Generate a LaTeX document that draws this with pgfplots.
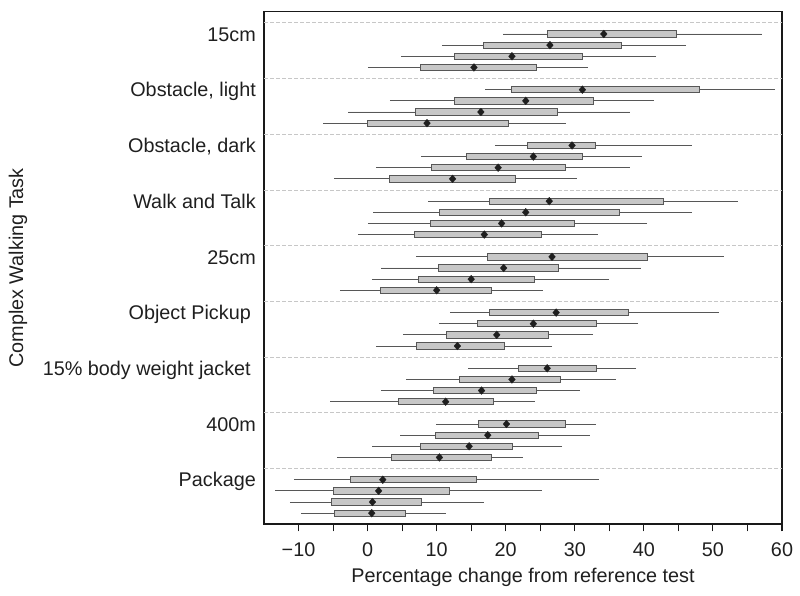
\documentclass[border=0pt]{standalone}
\usepackage{pgfplots}
\pgfplotsset{compat=1.18}
\usepackage{pgfplotstable}
\usepgfplotslibrary{statistics}
\usepackage{fontspec}
\setmainfont{Liberation Sans}

\pgfplotstableread{
y lw lq med uq uw
44 19.6 26.0 34.2 44.7 57.1
43 10.7 16.8 26.4 36.8 46.1
42 4.8 12.6 20.9 31.1 41.8
41 0.0 7.7 15.4 24.5 31.9
39 17.0 20.8 31.1 48.1 59.0
38 3.2 12.6 22.9 32.7 41.5
37 -2.8 6.9 16.4 27.5 38.0
36 -6.4 0.0 8.6 20.4 28.7
34 18.4 23.2 29.6 33.0 46.9
33 7.7 14.3 24.0 31.1 39.7
32 1.2 9.2 18.9 28.6 38.0
31 -4.8 3.2 12.3 21.4 30.3
29 8.8 17.6 26.3 42.8 53.6
28 0.8 10.4 22.9 36.4 47.0
27 0.0 9.1 19.4 29.9 40.5
26 -1.4 6.8 16.9 25.2 33.3
24 7.0 17.3 26.7 40.5 51.6
23 1.9 10.3 19.7 27.7 39.6
22 0.6 7.3 15.0 24.2 35.0
21 -4.0 1.8 10.0 18.0 25.4
19 11.9 17.7 27.3 37.7 50.9
18 10.3 15.9 24.0 33.1 39.2
17 5.1 11.4 18.7 26.2 32.7
16 1.2 7.1 13.0 19.8 26.7
14 14.6 21.8 26.0 33.1 38.9
13 5.6 13.3 20.9 27.9 36.0
12 1.9 9.6 16.5 24.5 30.7
11 -5.4 4.5 11.3 18.2 24.2
9 9.9 16.1 20.1 28.6 33.1
8 4.7 9.8 17.4 24.7 32.2
7 0.7 7.6 14.7 21.0 28.2
6 -4.5 3.4 10.4 18.0 22.5
4 -10.7 -2.5 2.2 15.8 33.5
3 -13.4 -5.0 1.6 11.8 25.2
2 -11.3 -5.2 0.7 7.8 16.8
1 -9.6 -4.8 0.6 5.5 11.3
}\data

\pgfplotsset{
  bxs/.style={draw=black!66, fill=black!22, line width=0.9bp},
}

\begin{document}
\begin{tikzpicture}
\path[use as bounding box] (0,0) rectangle (800bp,596bp);
\begin{axis}[
  at={(264bp,71.7bp)}, anchor=south west,
  scale only axis, width=518bp, height=512.6bp,
  xmin=-15, xmax=60, ymin=0, ymax=46,
  axis line style={line width=1.6bp, black!90},
  tick align=outside,
  xtick pos=bottom, ytick pos=left,
  xtick={-10,0,...,60},
  xticklabels={−10,0,10,20,30,40,50,60},
  minor xtick={-5,5,...,55},
  major tick length=7bp, minor tick length=7bp,
  xtick style={line width=1.1bp, black!90},
  ytick={4,9,...,44},
  yticklabels={Package,400m,15\% body weight jacket\hspace*{5bp},Object Pickup\hspace*{5bp},25cm,Walk and Talk,{Obstacle, dark},{Obstacle, light},15cm},
  ytick style={draw=none},
  extra y ticks={5,10,...,45},
  extra y tick labels={},
  extra y tick style={grid=major, major tick length=0pt},
  major grid style={black!22, line width=0.8bp, dash pattern=on 3.5bp off 2.5bp},
  tick label style={font=\fontsize{19.8bp}{23bp}\selectfont, text=black!88},
  label style={font=\fontsize{19.8bp}{23bp}\selectfont, text=black!88},
  xticklabel style={anchor=base, inner sep=0pt, yshift=-24.7bp},
  yticklabel style={anchor=base east, inner sep=0pt, xshift=-1bp, yshift=-7.2bp},
  xlabel={Percentage change from reference test},
  xlabel style={at={(axis description cs:0.5,-0.1145)}, anchor=base},
  ylabel={Complex Walking Task},
  ylabel style={at={(axis description cs:-0.475,0.5)}, anchor=center},
  boxplot/draw direction=x,
  boxplot/box extend=0.57,
  boxplot/whisker extend=0,
  boxplot/every median/.style={draw=none},
]
\addplot[bxs, boxplot prepared={draw position=44, lower whisker=19.6, lower quartile=26.0, median=34.2, upper quartile=44.7, upper whisker=57.1}] coordinates {};
\addplot[bxs, boxplot prepared={draw position=43, lower whisker=10.7, lower quartile=16.8, median=26.4, upper quartile=36.8, upper whisker=46.1}] coordinates {};
\addplot[bxs, boxplot prepared={draw position=42, lower whisker=4.8, lower quartile=12.6, median=20.9, upper quartile=31.1, upper whisker=41.8}] coordinates {};
\addplot[bxs, boxplot prepared={draw position=41, lower whisker=0.0, lower quartile=7.7, median=15.4, upper quartile=24.5, upper whisker=31.9}] coordinates {};
\addplot[bxs, boxplot prepared={draw position=39, lower whisker=17.0, lower quartile=20.8, median=31.1, upper quartile=48.1, upper whisker=59.0}] coordinates {};
\addplot[bxs, boxplot prepared={draw position=38, lower whisker=3.2, lower quartile=12.6, median=22.9, upper quartile=32.7, upper whisker=41.5}] coordinates {};
\addplot[bxs, boxplot prepared={draw position=37, lower whisker=-2.8, lower quartile=6.9, median=16.4, upper quartile=27.5, upper whisker=38.0}] coordinates {};
\addplot[bxs, boxplot prepared={draw position=36, lower whisker=-6.4, lower quartile=0.0, median=8.6, upper quartile=20.4, upper whisker=28.7}] coordinates {};
\addplot[bxs, boxplot prepared={draw position=34, lower whisker=18.4, lower quartile=23.2, median=29.6, upper quartile=33.0, upper whisker=46.9}] coordinates {};
\addplot[bxs, boxplot prepared={draw position=33, lower whisker=7.7, lower quartile=14.3, median=24.0, upper quartile=31.1, upper whisker=39.7}] coordinates {};
\addplot[bxs, boxplot prepared={draw position=32, lower whisker=1.2, lower quartile=9.2, median=18.9, upper quartile=28.6, upper whisker=38.0}] coordinates {};
\addplot[bxs, boxplot prepared={draw position=31, lower whisker=-4.8, lower quartile=3.2, median=12.3, upper quartile=21.4, upper whisker=30.3}] coordinates {};
\addplot[bxs, boxplot prepared={draw position=29, lower whisker=8.8, lower quartile=17.6, median=26.3, upper quartile=42.8, upper whisker=53.6}] coordinates {};
\addplot[bxs, boxplot prepared={draw position=28, lower whisker=0.8, lower quartile=10.4, median=22.9, upper quartile=36.4, upper whisker=47.0}] coordinates {};
\addplot[bxs, boxplot prepared={draw position=27, lower whisker=0.0, lower quartile=9.1, median=19.4, upper quartile=29.9, upper whisker=40.5}] coordinates {};
\addplot[bxs, boxplot prepared={draw position=26, lower whisker=-1.4, lower quartile=6.8, median=16.9, upper quartile=25.2, upper whisker=33.3}] coordinates {};
\addplot[bxs, boxplot prepared={draw position=24, lower whisker=7.0, lower quartile=17.3, median=26.7, upper quartile=40.5, upper whisker=51.6}] coordinates {};
\addplot[bxs, boxplot prepared={draw position=23, lower whisker=1.9, lower quartile=10.3, median=19.7, upper quartile=27.7, upper whisker=39.6}] coordinates {};
\addplot[bxs, boxplot prepared={draw position=22, lower whisker=0.6, lower quartile=7.3, median=15.0, upper quartile=24.2, upper whisker=35.0}] coordinates {};
\addplot[bxs, boxplot prepared={draw position=21, lower whisker=-4.0, lower quartile=1.8, median=10.0, upper quartile=18.0, upper whisker=25.4}] coordinates {};
\addplot[bxs, boxplot prepared={draw position=19, lower whisker=11.9, lower quartile=17.7, median=27.3, upper quartile=37.7, upper whisker=50.9}] coordinates {};
\addplot[bxs, boxplot prepared={draw position=18, lower whisker=10.3, lower quartile=15.9, median=24.0, upper quartile=33.1, upper whisker=39.2}] coordinates {};
\addplot[bxs, boxplot prepared={draw position=17, lower whisker=5.1, lower quartile=11.4, median=18.7, upper quartile=26.2, upper whisker=32.7}] coordinates {};
\addplot[bxs, boxplot prepared={draw position=16, lower whisker=1.2, lower quartile=7.1, median=13.0, upper quartile=19.8, upper whisker=26.7}] coordinates {};
\addplot[bxs, boxplot prepared={draw position=14, lower whisker=14.6, lower quartile=21.8, median=26.0, upper quartile=33.1, upper whisker=38.9}] coordinates {};
\addplot[bxs, boxplot prepared={draw position=13, lower whisker=5.6, lower quartile=13.3, median=20.9, upper quartile=27.9, upper whisker=36.0}] coordinates {};
\addplot[bxs, boxplot prepared={draw position=12, lower whisker=1.9, lower quartile=9.6, median=16.5, upper quartile=24.5, upper whisker=30.7}] coordinates {};
\addplot[bxs, boxplot prepared={draw position=11, lower whisker=-5.4, lower quartile=4.5, median=11.3, upper quartile=18.2, upper whisker=24.2}] coordinates {};
\addplot[bxs, boxplot prepared={draw position=9, lower whisker=9.9, lower quartile=16.1, median=20.1, upper quartile=28.6, upper whisker=33.1}] coordinates {};
\addplot[bxs, boxplot prepared={draw position=8, lower whisker=4.7, lower quartile=9.8, median=17.4, upper quartile=24.7, upper whisker=32.2}] coordinates {};
\addplot[bxs, boxplot prepared={draw position=7, lower whisker=0.7, lower quartile=7.6, median=14.7, upper quartile=21.0, upper whisker=28.2}] coordinates {};
\addplot[bxs, boxplot prepared={draw position=6, lower whisker=-4.5, lower quartile=3.4, median=10.4, upper quartile=18.0, upper whisker=22.5}] coordinates {};
\addplot[bxs, boxplot prepared={draw position=4, lower whisker=-10.7, lower quartile=-2.5, median=2.2, upper quartile=15.8, upper whisker=33.5}] coordinates {};
\addplot[bxs, boxplot prepared={draw position=3, lower whisker=-13.4, lower quartile=-5.0, median=1.6, upper quartile=11.8, upper whisker=25.2}] coordinates {};
\addplot[bxs, boxplot prepared={draw position=2, lower whisker=-11.3, lower quartile=-5.2, median=0.7, upper quartile=7.8, upper whisker=16.8}] coordinates {};
\addplot[bxs, boxplot prepared={draw position=1, lower whisker=-9.6, lower quartile=-4.8, median=0.6, upper quartile=5.5, upper whisker=11.3}] coordinates {};
\addplot[only marks, mark=diamond*, mark size=3.9bp, mark options={xscale=1.15, fill=black!88, draw=black!88, line width=0.3bp}] table[x=med, y=y] {\data};
\end{axis}
\end{tikzpicture}
\end{document}
